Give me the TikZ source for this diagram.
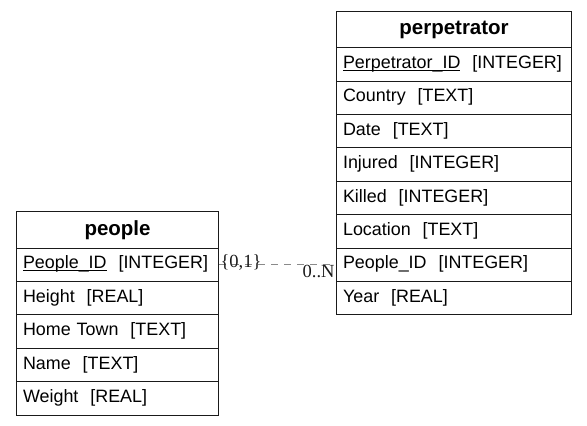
\documentclass[tikz,border=0pt]{standalone}
\usepackage{fontspec}
\setmainfont{Liberation Sans}
\newfontfamily\cardfont{Liberation Serif}
\definecolor{ink}{HTML}{1A1A1A}
\definecolor{linkgray}{HTML}{8A8A8A}
\tikzset{
  titlebox/.style={draw=ink,line width=1.1pt,fill=white,minimum height=36.4pt,
    inner sep=0pt,align=center,font=\fontsize{20.5}{24}\selectfont\bfseries},
  fieldbox/.style={draw=ink,line width=1.1pt,fill=white,minimum height=33.4pt,
    inner xsep=6.5pt,inner ysep=0pt,align=left,font=\fontsize{17.9}{21}\selectfont},
  relation/.style={draw=linkgray,line width=.9pt,dash pattern=on 7pt off 6pt},
  card/.style={font=\cardfont\fontsize{18.5}{20}\selectfont,text=ink,inner sep=1pt}
}
% name, x, y, width, text
\newcommand{\tabletitle}[5]{%
  \node[titlebox,minimum width=#4,anchor=north west] (#1) at (#2,#3) {#5};
}
% name, x, y, text width, text
\newcommand{\fieldrow}[5]{%
  \node[fieldbox,text width=#4,anchor=north west] (#1) at (#2,#3) {\strut#5};
}
% underlined key column
\newcommand{\pkey}[1]{%
  \setbox0\hbox{#1}\rlap{\rule[-2.2pt]{\wd0}{1pt}}\box0}

\begin{document}
\begin{tikzpicture}[x=1pt,y=-1pt]
  \useasboundingbox (0,0) rectangle (587,426);

  % perpetrator table
  \tabletitle{perp}{336}{10.7}{235pt}{perpetrator}
  \fieldrow{perp-id}{336}{47.1}{222pt}{\pkey{Perpetrator\_ID}\ \ [INTEGER]}
  \fieldrow{perp-country}{336}{80.5}{222pt}{Country\ \ [TEXT]}
  \fieldrow{perp-date}{336}{113.9}{222pt}{Date\ \ [TEXT]}
  \fieldrow{perp-injured}{336}{147.3}{222pt}{Injured\ \ [INTEGER]}
  \fieldrow{perp-killed}{336}{180.7}{222pt}{Killed\ \ [INTEGER]}
  \fieldrow{perp-location}{336}{214.1}{222pt}{Location\ \ [TEXT]}
  \fieldrow{perp-people}{336}{247.5}{222pt}{People\_ID\ \ [INTEGER]}
  \fieldrow{perp-year}{336}{280.9}{222pt}{Year\ \ [REAL]}

  % people table
  \tabletitle{people}{16}{211.1}{202pt}{people}
  \fieldrow{people-id}{16}{247.5}{189pt}{\pkey{People\_ID}\ \ [INTEGER]}
  \fieldrow{people-height}{16}{280.9}{189pt}{Height\ \ [REAL]}
  \fieldrow{people-town}{16}{314.3}{189pt}{Home Town\ \ [TEXT]}
  \fieldrow{people-name}{16}{347.7}{189pt}{Name\ \ [TEXT]}
  \fieldrow{people-weight}{16}{381.1}{189pt}{Weight\ \ [REAL]}

  % link between the two tables
  \draw[relation] (people-id.east) -- (perp-people.west)
    node[card,pos=0,anchor=south west,yshift=-7pt] (card-one) {\{0,1\}}
    node[card,pos=1,anchor=north east,yshift=1pt] (card-many) {0..N};
\end{tikzpicture}
\end{document}
